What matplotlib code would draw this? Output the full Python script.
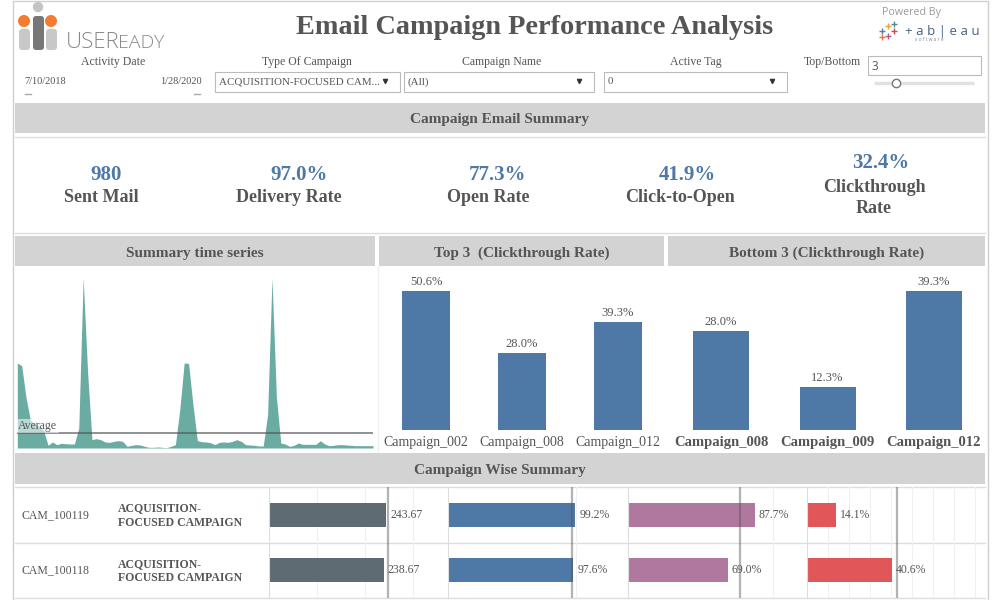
import matplotlib
matplotlib.use("Agg")
import numpy as np
import matplotlib.pyplot as plt
from matplotlib.patches import Rectangle, Circle, FancyBboxPatch

plt.rcParams["font.family"] = "Liberation Serif"

# data collect
kpi_values = ["980", "97.0%", "77.3%", "41.9%", "32.4%"]
kpi_labels = ["Sent Mail", "Delivery Rate", "Open Rate", "Click-to-Open", "Clickthrough\nRate"]

series_avg = 45
series = [255, 247, 150, 82, 72, 65, 52, 8, 18, 10, 14, 13, 12, 12, 60, 510, 230, 25, 28, 25,
          18, 17, 20, 22, 20, 5, 8, 10, 9, 5, 2, 2, 3, 2, 1, 5, 10, 115, 255, 254,
          130, 22, 19, 18, 16, 10, 17, 18, 17, 20, 25, 20, 10, 9, 8, 6, 6, 100, 510, 153,
          15, 12, 5, 8, 15, 11, 11, 11, 11, 22, 12, 7, 8, 10, 10, 9, 8, 7, 7, 7, 7, 7]

top_names = ["Campaign_002", "Campaign_008", "Campaign_012"]
top_rates = [50.6, 28.0, 39.3]
bottom_names = ["Campaign_008", "Campaign_009", "Campaign_012"]
bottom_rates = [28.0, 12.3, 39.3]

cam_ids = ["CAM_100119", "CAM_100118"]
cam_type = "ACQUISITION-\nFOCUSED CAMPAIGN"
sent = [243.67, 238.67]
delivery = [99.2, 97.6]
opens = [87.7, 69.0]
clicks = [14.1, 40.6]
sent_ref = 247
delivery_ref = 97.0
opens_ref = 77.3
clicks_ref = 43

GREY = "#555555"
BAND = "#d3d3d3"
BLUE = "#4e79a7"

fig = plt.figure(figsize=(10, 6), dpi=100)


def px_axes(x0, y0, x1, y1):
    # axes from pixel box, y counted from the top
    a = fig.add_axes([x0 / 1000, 1 - y1 / 600, (x1 - x0) / 1000, (y1 - y0) / 600])
    a.patch.set_alpha(0)
    return a


# background layer for bands, filters and logos
bg = px_axes(0, 0, 1000, 600)
bg.set_xlim(0, 1000)
bg.set_ylim(600, 0)
bg.axis("off")

bg.plot([13, 13, 988, 988], [600, 1, 1, 600], color="#cfcfcf", lw=1)
bg.plot([15, 985], [137, 137], color="#dddddd", lw=1)
bg.plot([15, 985], [233, 233], color="#dddddd", lw=1)
bg.plot([378, 378], [266, 452], color="#eeeeee", lw=1)

bands = [(15, 103, 985, 133, "Campaign Email Summary"),
         (15, 236, 375, 266, "Summary time series"),
         (379, 236, 664, 266, "Top 3  (Clickthrough Rate)"),
         (668, 236, 985, 266, "Bottom 3 (Clickthrough Rate)"),
         (15, 453, 985, 484, "Campaign Wise Summary")]
for x0, y0, x1, y1, label in bands:
    bg.add_patch(Rectangle((x0, y0), x1 - x0, y1 - y0, color=BAND, lw=0))
    bg.text((x0 + x1) / 2, (y0 + y1) / 2 + 2, label, ha="center", va="center",
            fontsize=11, fontweight="bold", color=GREY)

bg.text(535, 28, "Email Campaign Performance Analysis", ha="center", va="center",
        fontsize=20.3, fontweight="bold", color=GREY)

# userready logo
bg.add_patch(Circle((38, 7), 5.2, color="#c4c4c4", lw=0))
bg.add_patch(Circle((24, 21), 6, color="#f47b30", lw=0))
bg.add_patch(Circle((51, 21), 6, color="#f47b30", lw=0))
for x0, y0, x1, col in [(19, 29, 30, "#c8c8c8"), (33, 16, 44, "#777777"), (46, 29, 57, "#c8c8c8")]:
    bg.add_patch(FancyBboxPatch((x0 + 3, y0 + 3), x1 - x0 - 6, 50 - y0 - 6,
                                boxstyle="round,pad=3", color=col, lw=0))
bg.text(66, 48, "USER", fontsize=16, color="#8a8a8a", family="Open Sans", va="baseline",
        fontweight="light")
bg.text(118, 48, "EADY", fontsize=14, color="#8a8a8a", family="Open Sans", va="baseline",
        fontweight="light")

# tableau logo
bg.text(882, 12, "Powered By", fontsize=7.7, color="#999999", family="Open Sans", va="center")
for x, y, c in [(888, 26, "#e8a33d"), (894, 31, "#c5504f"), (888, 36, "#b55a8a"),
                (882, 31, "#5b7fa6"), (894, 24, "#59879b"), (882, 37, "#e8763a")]:
    bg.plot(x, y, marker="+", ms=5, mew=1, color=c)
bg.text(905, 32, "+ a b | e a u", fontsize=9.5, color="#46627f", family="Open Sans", va="center")
bg.text(915, 39.5, "s o f t w a r e", fontsize=3.5, color="#888888", family="Open Sans", va="center")

# filters
labels = [(113, "Activity Date"), (307, "Type Of Campaign"), (502, "Campaign Name"), (696, "Active Tag")]
for x, label in labels:
    bg.text(x, 62, label, ha="center", va="center", fontsize=8.5, color=GREY)
bg.text(832, 62, "Top/Bottom", ha="center", va="center", fontsize=8.5, color=GREY)
bg.text(24, 81, "7/10/2018", va="center", fontsize=7.5, color=GREY)
bg.text(202, 81, "1/28/2020", va="center", ha="right", fontsize=7.5, color=GREY)
bg.plot([25, 31], [94, 94], color="#aaaaaa", lw=1)
bg.plot([194, 200], [94, 94], color="#aaaaaa", lw=1)

boxes = [(215, 400, "ACQUISITION-FOCUSED CAM..."), (404, 594, "(All)"), (604, 787, "0")]
for x0, x1, label in boxes:
    bg.add_patch(Rectangle((x0, 72), x1 - x0, 20, fc="white", ec="#bbbbbb", lw=0.8))
    bg.text(x0 + 4, 82, label, va="center", fontsize=7.9, color=GREY)
    bg.plot(x1 - 15, 81, marker="v", ms=3, color="#333333")
bg.add_patch(Rectangle((868, 56), 113, 19, fc="white", ec="#bbbbbb", lw=0.8))
bg.text(872, 66, "3", va="center", fontsize=8.5, color=GREY, family="Open Sans")
bg.plot([874, 974], [83, 83], color="#e2e2e2", lw=2.5, solid_capstyle="butt")
bg.plot(896, 83, marker="o", ms=6, mfc="white", mec="#777777", mew=1)

# kpi row
kpi_x = [[106, 101], [299, 289], [497, 488], [687, 680], [881, 874]]
for i in range(5):
    vx, lx = kpi_x[i]
    two_line = "\n" in kpi_labels[i]
    bg.text(vx, 163 if two_line else 175, kpi_values[i], ha="center", va="center",
            fontsize=15, fontweight="bold", color=BLUE)
    bg.text(lx, 198, kpi_labels[i], ha="center", va="center", fontsize=13,
            fontweight="bold", color=GREY, linespacing=1.3)

# time series
ts = px_axes(17.3, 267, 373, 448)
ts.fill_between(np.arange(len(series)), series, color="#6aaca2", lw=0)
ts.axhline(series_avg, color="#555555", alpha=0.75, lw=1.2)
ts.text(0.2, series_avg + 3, "Average", va="bottom", fontsize=8.5, color=GREY,
        bbox=dict(fc="white", ec="none", alpha=0.55, pad=1))
ts.set_xlim(0, len(series) - 1)
ts.set_ylim(0, 543)
ts.axis("off")


# top and bottom bars
def rate_bars(box, names, rates, width, xlim, ymax, weight, tick_size):
    a = px_axes(*box)
    x = np.arange(len(names))
    a.bar(x, rates, width, color=BLUE)
    for xi, r in zip(x, rates):
        a.annotate(f"{r:.1f}%", (xi, r), xytext=(0, 2), textcoords="offset points",
                   ha="center", va="bottom", fontsize=9, color=GREY)
    a.set_xlim(*xlim)
    a.set_ylim(0, ymax)
    a.set_xticks(x, names, fontsize=tick_size, color=GREY, fontweight=weight)
    a.tick_params(length=0, pad=4)
    a.set_yticks([])
    for s in a.spines.values():
        s.set_visible(False)


rate_bars((380, 270, 664, 430), top_names, top_rates, 0.5, (-0.479, 2.479), 58.2, "normal", 10)
rate_bars((668, 270, 985, 430), bottom_names, bottom_rates, 0.526, (-0.498, 2.479), 45.3, "bold", 10.5)

# campaign table
bg.plot([15, 985], [487, 487], color="#dddddd", lw=1)
bg.plot([15, 985], [543, 543], color="#dddddd", lw=1)
bg.plot([15, 985], [598, 598], color="#dddddd", lw=1)
for i in range(2):
    yc = 515 + i * 55.5
    bg.text(21, yc, cam_ids[i], va="center", fontsize=8.5, color=GREY)
    bg.text(118, yc + 0.5, cam_type, va="center", fontsize=8.5, fontweight="bold", color=GREY,
            linespacing=1.3)


def table_col(x0, x1, values, ref, xmax, color, fmt, grid):
    a = px_axes(x0, 487, x1, 598)
    rows = np.arange(len(values))
    for g in grid:
        a.axvline(g, color="#f0f0f0", lw=0.8, zorder=0)
    a.barh(rows, values, 0.43, color=color, zorder=2)
    a.axvline(ref, color="#555555", alpha=0.45, lw=1.6, zorder=3)
    for r, v in zip(rows, values):
        a.annotate(fmt.format(v), (v, r), xytext=(3, 0), textcoords="offset points",
                   va="center", fontsize=8.5, color=GREY, zorder=4)
    a.set_xlim(0, xmax)
    a.set_ylim(1.5, -0.5)
    a.set_xticks([])
    a.set_yticks([])
    for s in ["top", "bottom", "right"]:
        a.spines[s].set_visible(False)
    a.spines["left"].set_color("#dddddd")


table_col(268.5, 447.5, sent, sent_ref, 371, "#5f6b73", "{:.2f}", [100, 200, 300])
table_col(447.5, 627.5, delivery, delivery_ref, 140, BLUE, "{:.1f}%", [100])
table_col(627.5, 806.5, opens, opens_ref, 123.4, "#b0789f", "{:.1f}%", [100])
table_col(806.5, 985, clicks, clicks_ref, 85, "#e15759", "{:.1f}%", np.arange(10, 90, 10))

fig.savefig("out.png", dpi=100)
